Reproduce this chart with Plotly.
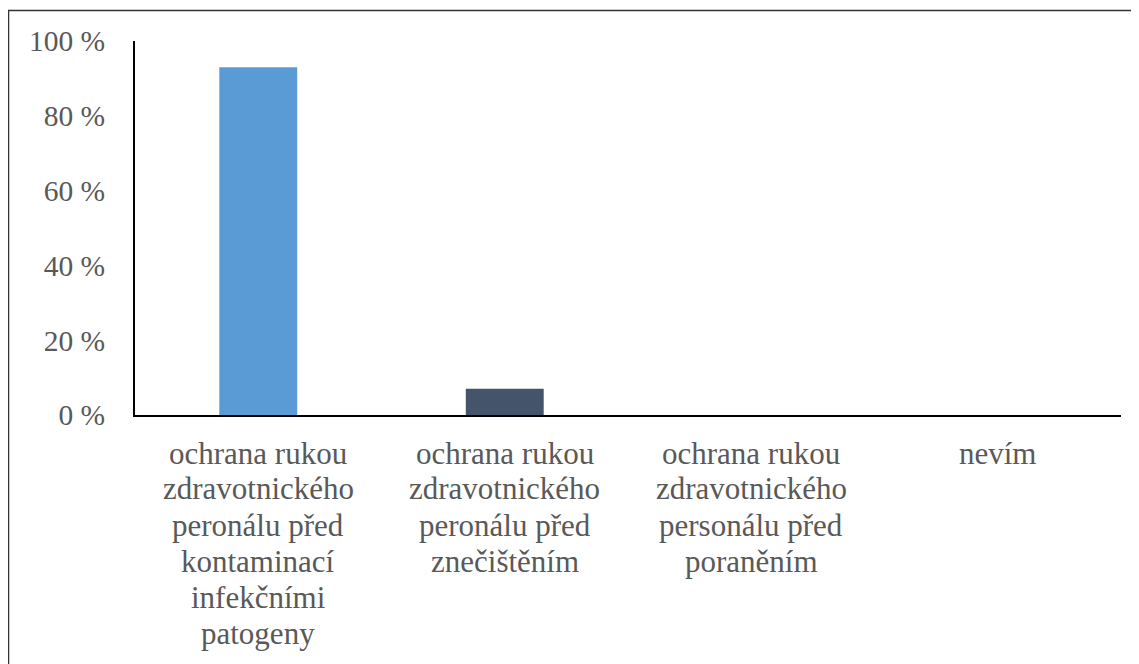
import plotly.graph_objects as go

categories = [
    "ochrana rukou<br>zdravotnického<br>peronálu před<br>kontaminací<br>infekčními<br>patogeny",
    "ochrana rukou<br>zdravotnického<br>peronálu před<br>znečištěním",
    "ochrana rukou<br>zdravotnického<br>personálu před<br>poraněním",
    "nevím",
]
values = [93, 7, 0, 0]
bar_colors = ["#5B9BD5", "#44546A", "#A5A5A5", "#FFC000"]
y_ticks = [0, 20, 40, 60, 80, 100]
y_tick_text = ["0 %", "20 %", "40 %", "60 %", "80 %", "100 %"]

# page body has an 8px margin, so figure coordinates = screen - 8
W, H = 1131, 656
L, R, T, B = 127, 18, 33, 249
pw = W - L - R
ph = H - T - B

SERIF = "Liberation Serif, Times New Roman, serif"
TEXT = "#595959"

fig = go.Figure(go.Bar(x=categories, y=values, marker_color=bar_colors, marker_line_width=0))

def px_x(p):
    return (p - L) / pw

def px_y(p):
    return (H - B - p) / ph

# category labels: tighter line spacing than plotly's default tick labels
LINE0, LINE_STEP = 445, 36
annotations = []
for cat in categories:
    for i, line in enumerate(cat.split("<br>")):
        annotations.append(dict(
            x=cat, xref="x", y=px_y(LINE0 + i * LINE_STEP), yref="paper",
            text=line, showarrow=False, xanchor="center", yanchor="middle",
            font=dict(family=SERIF, size=31, color=TEXT),
        ))

fig.update_layout(
    width=W, height=H,
    margin=dict(l=L, r=R, t=T, b=B, autoexpand=False),
    plot_bgcolor="white", paper_bgcolor="white",
    bargap=0.684,
    showlegend=False,
    font=dict(family=SERIF, size=29, color=TEXT),
    xaxis=dict(showline=True, linecolor="black", linewidth=2, ticks="", showgrid=False,
               showticklabels=False, zeroline=False, automargin=False),
    yaxis=dict(range=[0, 100], tickmode="array", tickvals=y_ticks, ticktext=y_tick_text,
               showline=True, linecolor="black", linewidth=2, ticks="", showgrid=False,
               zeroline=False, ticklabelstandoff=22, automargin=False,
               tickfont=dict(family=SERIF, size=29.5, color=TEXT)),
    annotations=annotations,
    shapes=[
        dict(type="line", xref="paper", yref="paper", x0=px_x(0), x1=px_x(1160),
             y0=px_y(2.5), y1=px_y(2.5), line=dict(color="#333333", width=1.5)),
        dict(type="line", xref="paper", yref="paper", x0=px_x(0.5), x1=px_x(0.5),
             y0=px_y(2), y1=px_y(700), line=dict(color="#333333", width=1.5)),
    ],
)

fig.write_html("out.html")
